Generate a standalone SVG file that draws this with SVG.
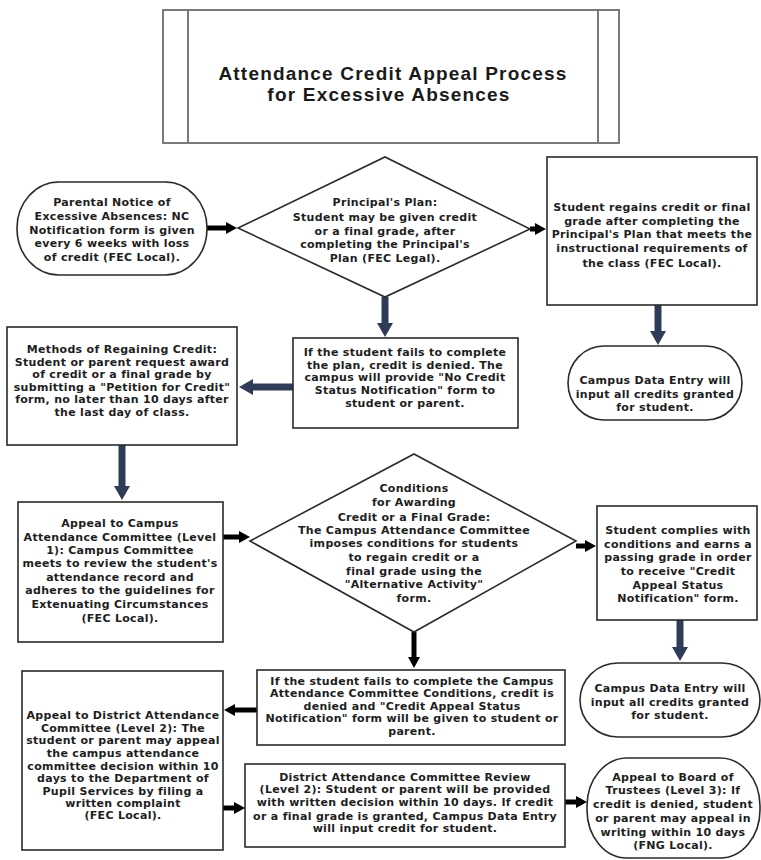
<svg xmlns="http://www.w3.org/2000/svg" width="761" height="860" viewBox="0 0 761 860">
<style>
.bg{fill:#ffffff}
.box{fill:#ffffff;stroke:#2a2a2a;stroke-width:1.6}
.tbox{fill:#ffffff;stroke:#7a7a7a;stroke-width:2}
.t{font-family:"DejaVu Sans",Verdana,sans-serif;font-weight:bold;font-size:11px;letter-spacing:0.3px;fill:#1e1e1e;text-anchor:middle}
.title{font-family:"Liberation Sans",Arial,sans-serif;font-weight:bold;font-size:19px;letter-spacing:1.2px;fill:#1a1a1a;text-anchor:middle}
.nv{stroke:#2f3c58;stroke-width:7;fill:none}
.bk{stroke:#000000;stroke-width:5;fill:none}
</style>
<defs>
<marker id="hn" viewBox="0 -8 14 16" markerWidth="14" markerHeight="16" refX="1" refY="0" orient="auto" markerUnits="userSpaceOnUse">
<path d="M0,-8 L14,0 L0,8 z" fill="#2f3c58"/>
</marker>
<marker id="hb" viewBox="0 -6 11 12" markerWidth="11" markerHeight="12" refX="1" refY="0" orient="auto" markerUnits="userSpaceOnUse">
<path d="M0,-6 L11,0 L0,6 z" fill="#000000"/>
</marker>
</defs>
<rect class="bg" x="0" y="0" width="761" height="860"/>

<g id="title">
<rect class="tbox" x="163" y="10" width="456" height="133"/>
<line x1="188" y1="10" x2="188" y2="143" stroke="#7a7a7a" stroke-width="2"/>
<line x1="598" y1="10" x2="598" y2="143" stroke="#7a7a7a" stroke-width="2"/>
<text class="title" x="393" y="80">Attendance Credit Appeal Process</text>
<text class="title" x="389" y="101">for Excessive Absences</text>
</g>

<g id="connectors">
<line class="bk" x1="207" y1="228" x2="227" y2="228" marker-end="url(#hb)"/>
<line class="bk" x1="530" y1="229" x2="536" y2="229" marker-end="url(#hb)"/>
<line class="nv" x1="385" y1="297" x2="385" y2="324" marker-end="url(#hn)"/>
<line class="nv" x1="658" y1="305" x2="658" y2="332" marker-end="url(#hn)"/>
<line class="nv" x1="293" y1="387" x2="252" y2="387" marker-end="url(#hn)"/>
<line class="nv" x1="122" y1="445" x2="122" y2="487" marker-end="url(#hn)"/>
<line class="bk" x1="223" y1="537" x2="240" y2="537" marker-end="url(#hb)"/>
<line class="bk" x1="576" y1="546" x2="586" y2="546" marker-end="url(#hb)"/>
<line class="nv" x1="680" y1="620" x2="680" y2="648" marker-end="url(#hn)"/>
<line class="bk" x1="414" y1="632" x2="414" y2="658" marker-end="url(#hb)"/>
<line class="bk" x1="258" y1="710" x2="234" y2="710" marker-end="url(#hb)"/>
<line class="bk" x1="223" y1="808" x2="235" y2="808" marker-end="url(#hb)"/>
<line class="bk" x1="565" y1="802" x2="577" y2="802" marker-end="url(#hb)"/>
</g>

<g id="parental-notice">
<rect class="box" x="17" y="182" width="190" height="93" rx="42" ry="46"/>
<text class="t" x="112" y="206">Parental Notice of</text>
<text class="t" x="112" y="220">Excessive Absences: NC</text>
<text class="t" x="112" y="234">Notification form is given</text>
<text class="t" x="112" y="247">every 6 weeks with loss</text>
<text class="t" x="112" y="261">of credit (FEC Local).</text>
</g>

<g id="principals-plan">
<polygon class="box" points="238,228 385,157 530,229 385,297"/>
<text class="t" x="385" y="206">Principal's Plan:</text>
<text class="t" x="385" y="221">Student may be given credit</text>
<text class="t" x="385" y="235">or a final grade, after</text>
<text class="t" x="385" y="248">completing the Principal's</text>
<text class="t" x="385" y="262">Plan (FEC Legal).</text>
</g>

<g id="student-regains">
<rect class="box" x="547" y="157" width="210" height="148"/>
<text class="t" x="652" y="211">Student regains credit or final</text>
<text class="t" x="652" y="225">grade after completing the</text>
<text class="t" x="652" y="238">Principal's Plan that meets the</text>
<text class="t" x="652" y="252">instructional requirements of</text>
<text class="t" x="652" y="267">the class (FEC Local).</text>
</g>

<g id="campus-data-entry-1">
<rect class="box" x="568" y="346" width="174" height="74" rx="36" ry="37"/>
<text class="t" x="655" y="384">Campus Data Entry will</text>
<text class="t" x="655" y="398">input all credits granted</text>
<text class="t" x="655" y="411">for student.</text>
</g>

<g id="plan-failed">
<rect class="box" x="293" y="338" width="225" height="90"/>
<text class="t" x="405" y="356">If the student fails to complete</text>
<text class="t" x="405" y="369">the plan, credit is denied.  The</text>
<text class="t" x="405" y="381">campus will provide "No Credit</text>
<text class="t" x="405" y="394">Status Notification" form to</text>
<text class="t" x="405" y="407">student or parent.</text>
</g>

<g id="methods">
<rect class="box" x="7" y="327" width="230" height="118"/>
<text class="t" x="122" y="353">Methods of Regaining Credit:</text>
<text class="t" x="122" y="366">Student or parent request award</text>
<text class="t" x="122" y="378">of credit or a final grade by</text>
<text class="t" x="122" y="391">submitting a "Petition for Credit"</text>
<text class="t" x="122" y="403">form, no later than 10 days after</text>
<text class="t" x="122" y="416">the last day of class.</text>
</g>

<g id="appeal-campus">
<rect class="box" x="18" y="502" width="205" height="140"/>
<text class="t" x="120" y="527">Appeal to Campus</text>
<text class="t" x="120" y="541">Attendance Committee (Level</text>
<text class="t" x="120" y="554">1):  Campus Committee</text>
<text class="t" x="120" y="567">meets to review the student's</text>
<text class="t" x="120" y="581">attendance record and</text>
<text class="t" x="120" y="594">adheres to the guidelines for</text>
<text class="t" x="120" y="608">Extenuating Circumstances</text>
<text class="t" x="120" y="622">(FEC Local).</text>
</g>

<g id="conditions">
<polygon class="box" points="250,541 414,454 576,541 414,632"/>
<text class="t" x="414" y="492">Conditions</text>
<text class="t" x="414" y="506">for Awarding</text>
<text class="t" x="414" y="521">Credit or a Final Grade:</text>
<text class="t" x="414" y="534">The Campus Attendance Committee</text>
<text class="t" x="414" y="547">imposes conditions for students</text>
<text class="t" x="414" y="561">to regain credit or a</text>
<text class="t" x="414" y="575">final grade using the</text>
<text class="t" x="414" y="588">"Alternative Activity"</text>
<text class="t" x="414" y="602">form.</text>
</g>

<g id="student-complies">
<rect class="box" x="597" y="506" width="160" height="114"/>
<text class="t" x="678" y="534">Student complies with</text>
<text class="t" x="678" y="548">conditions and earns a</text>
<text class="t" x="678" y="561">passing grade in order</text>
<text class="t" x="678" y="575">to receive "Credit</text>
<text class="t" x="678" y="589">Appeal Status</text>
<text class="t" x="678" y="602">Notification" form.</text>
</g>

<g id="campus-data-entry-2">
<rect class="box" x="580" y="663" width="180" height="74" rx="38" ry="37"/>
<text class="t" x="670" y="692">Campus Data Entry will</text>
<text class="t" x="670" y="706">input all credits granted</text>
<text class="t" x="670" y="719">for student.</text>
</g>

<g id="conditions-failed">
<rect class="box" x="257" y="670" width="308" height="75"/>
<text class="t" x="412" y="685">If the student fails to complete the Campus</text>
<text class="t" x="412" y="697">Attendance Committee Conditions, credit is</text>
<text class="t" x="412" y="710">denied and "Credit Appeal Status</text>
<text class="t" x="412" y="722">Notification" form will be given to student or</text>
<text class="t" x="412" y="735">parent.</text>
</g>

<g id="appeal-district">
<rect class="box" x="22" y="671" width="201" height="179"/>
<text class="t" x="123" y="719">Appeal to District Attendance</text>
<text class="t" x="123" y="732">Committee (Level 2): The</text>
<text class="t" x="123" y="744">student or parent may appeal</text>
<text class="t" x="123" y="757">the campus attendance</text>
<text class="t" x="123" y="770">committee decision within 10</text>
<text class="t" x="123" y="782">days to the Department of</text>
<text class="t" x="123" y="795">Pupil Services by filing a</text>
<text class="t" x="123" y="807">written complaint</text>
<text class="t" x="123" y="819">(FEC Local).</text>
</g>

<g id="district-review">
<rect class="box" x="245" y="764" width="320" height="83"/>
<text class="t" x="405" y="781">District Attendance Committee Review</text>
<text class="t" x="405" y="793">(Level 2): Student or parent will be provided</text>
<text class="t" x="405" y="806">with written decision within 10 days. If credit</text>
<text class="t" x="405" y="820">or a final grade is granted, Campus Data Entry</text>
<text class="t" x="405" y="832">will input credit for student.</text>
</g>

<g id="appeal-board">
<rect class="box" x="587" y="758" width="173" height="100" rx="40" ry="48"/>
<text class="t" x="673" y="781">Appeal to Board of</text>
<text class="t" x="673" y="794">Trustees (Level 3):  If</text>
<text class="t" x="673" y="808">credit is denied, student</text>
<text class="t" x="673" y="822">or parent may appeal in</text>
<text class="t" x="673" y="836">writing within 10 days</text>
<text class="t" x="673" y="849">(FNG Local).</text>
</g>
</svg>
